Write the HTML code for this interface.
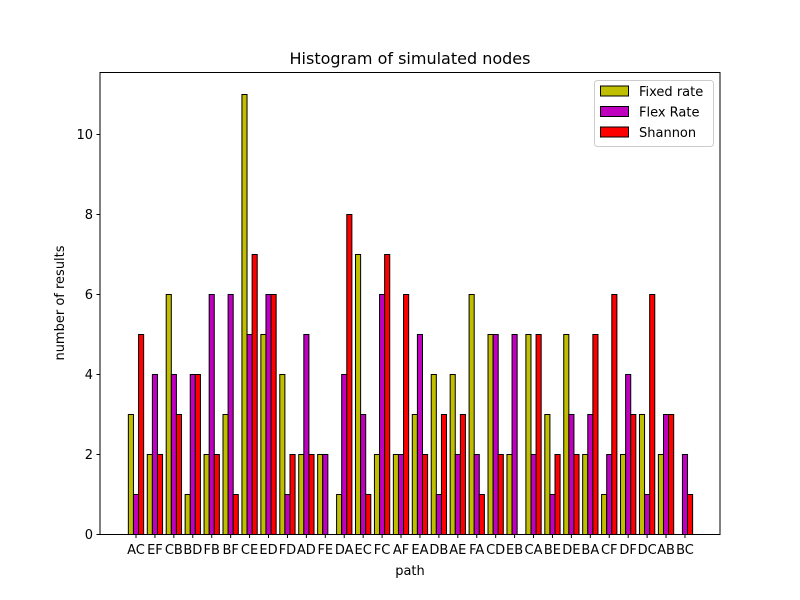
<!DOCTYPE html>
<html><head><meta charset="utf-8"><style>
body{margin:0;background:#fff}
svg{display:block;font-family:"DejaVu Sans","Liberation Sans",sans-serif}
</style></head><body>
<svg id="chart" width="800" height="600">
<rect width="800" height="600" fill="#fff"/>
<text x="410" y="64" font-size="16" text-anchor="middle">Histogram of simulated nodes</text>
<g id="bars"></g>
<g id="yticks"></g>
<g id="xticks"></g>
<rect x="100" y="72.5" width="620" height="462" fill="none" stroke="#000" stroke-width="1"/>
<text x="410" y="575" font-size="13" text-anchor="middle">path</text>
<text x="0" y="0" font-size="13" text-anchor="middle" transform="translate(64,303) rotate(-90)">number of results</text>
<g id="legend"></g>
</svg>
<script>
const categories=["AC","EF","CB","BD","FB","BF","CE","ED","FD","AD","FE","DA","EC","FC","AF","EA","DB","AE","FA","CD","EB","CA","BE","DE","BA","CF","DF","DC","AB","BC"];
const fixedRate=[3,2,6,1,2,3,11,5,4,2,2,1,7,2,2,3,4,4,6,5,2,5,3,5,2,1,2,3,2,0];
const flexRate=[1,4,4,4,6,6,5,6,1,5,2,4,3,6,2,5,1,2,2,5,5,2,1,3,3,2,4,1,3,2];
const shannon=[5,2,3,4,2,1,7,6,2,2,0,8,1,7,6,2,3,3,1,2,0,5,2,2,5,6,3,6,3,1];
const yTicks=[0,2,4,6,8,10];
const seriesNames=["Fixed rate","Flex Rate","Shannon"];
const seriesColors=["#bfbf00","#bf00bf","#ff0000"];
const NS="http://www.w3.org/2000/svg";
const step=18.93, x0=136, bw=5.1;
function xPos(i){return x0+i*step;}
function yPos(v){return 534.5-v*40;}
const series=[fixedRate,flexRate,shannon];
const gb=document.getElementById('bars');
series.forEach((vals,s)=>{
  vals.forEach((v,i)=>{
    const r=document.createElementNS(NS,'rect');
    const cx=xPos(i)+(s-1)*bw;
    r.setAttribute('x',cx-bw/2);
    r.setAttribute('y',yPos(v));
    r.setAttribute('width',bw);
    r.setAttribute('height',yPos(0)-yPos(v));
    r.setAttribute('fill',seriesColors[s]);
    r.setAttribute('stroke','#000');
    r.setAttribute('stroke-width','1');
    
    
    gb.appendChild(r);
  });
});
const gy=document.getElementById('yticks');
yTicks.forEach(t=>{
  const y=yPos(t);
  const l=document.createElementNS(NS,'line');
  l.setAttribute('x1',96.5);l.setAttribute('x2',100);l.setAttribute('y1',y);l.setAttribute('y2',y);l.setAttribute('stroke','#000');
  
  
  gy.appendChild(l);
  const tx=document.createElementNS(NS,'text');
  tx.setAttribute('x',93);tx.setAttribute('y',y+4.5);tx.setAttribute('font-size','13');tx.setAttribute('text-anchor','end');
  tx.textContent=t;
  
  
  gy.appendChild(tx);
});
const gx=document.getElementById('xticks');
categories.forEach((c,i)=>{
  const x=xPos(i);
  const l=document.createElementNS(NS,'line');
  l.setAttribute('x1',x);l.setAttribute('x2',x);l.setAttribute('y1',534.5);l.setAttribute('y2',538);l.setAttribute('stroke','#000');
  
  
  gx.appendChild(l);
  const tx=document.createElementNS(NS,'text');
  tx.setAttribute('x',x);tx.setAttribute('y',554);tx.setAttribute('font-size','13');tx.setAttribute('text-anchor','middle');
  tx.textContent=c;
  
  
  gx.appendChild(tx);
});
const lg=document.getElementById('legend');
const box=document.createElementNS(NS,'rect');
box.setAttribute('x',594.5);box.setAttribute('y',80.5);box.setAttribute('width',119);box.setAttribute('height',66);box.setAttribute('rx',3);
box.setAttribute('fill','#fff');box.setAttribute('stroke','#ccc');


lg.appendChild(box);
seriesNames.forEach((n,s)=>{
  const y=86+s*20.5;
  const r=document.createElementNS(NS,'rect');
  r.setAttribute('x',600.5);r.setAttribute('y',y);r.setAttribute('width',28);r.setAttribute('height',10);
  r.setAttribute('fill',seriesColors[s]);r.setAttribute('stroke','#000');
  
  
  lg.appendChild(r);
  const t=document.createElementNS(NS,'text');
  t.setAttribute('x',639);t.setAttribute('y',y+10);t.setAttribute('font-size','13');
  t.textContent=n;
  
  
  lg.appendChild(t);
});
</script>
</body></html>
